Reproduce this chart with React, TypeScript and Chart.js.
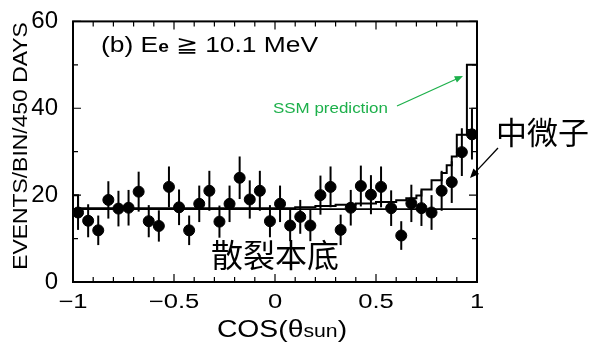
import React, { useEffect, useRef } from "react";
import { Chart, registerables } from "chart.js";

Chart.register(...registerables);

const binCenters = [
  -0.975, -0.925, -0.875, -0.825, -0.775, -0.725, -0.675, -0.625, -0.575, -0.525,
  -0.475, -0.425, -0.375, -0.325, -0.275, -0.225, -0.175, -0.125, -0.075, -0.025,
  0.025, 0.075, 0.125, 0.175, 0.225, 0.275, 0.325, 0.375, 0.425, 0.475,
  0.525, 0.575, 0.625, 0.675, 0.725, 0.775, 0.825, 0.875, 0.925, 0.975,
];
const events = [
  16.0, 14.1, 11.9, 18.9, 16.9, 17.1, 20.8, 14.0, 12.9, 21.9,
  17.2, 11.9, 18.0, 21.0, 13.9, 18.0, 24.0, 19.0, 21.0, 14.0,
  18.0, 13.0, 15.0, 13.0, 20.0, 21.9, 12.0, 17.1, 22.1, 20.1,
  21.9, 17.0, 10.7, 18.1, 17.0, 16.0, 21.0, 23.0, 29.9, 34.0,
];
const errors = [
  4.0, 3.8, 3.4, 4.3, 4.1, 4.1, 4.6, 3.7, 3.6, 4.7,
  4.1, 3.4, 4.2, 4.6, 3.7, 4.2, 4.9, 4.4, 4.6, 3.7,
  4.2, 3.6, 3.9, 3.6, 4.5, 4.7, 3.5, 4.1, 4.7, 4.5,
  4.7, 4.1, 3.3, 4.3, 4.1, 4.0, 4.6, 4.8, 5.5, 5.8,
];
// background level (flat line)
const bgX = [-1, 1];
const bgY = [16.8, 16.8];
// SSM prediction histogram: bin start edges and heights
const ssmEdges = [-1, -0.975, 0.1, 0.2, 0.3, 0.4, 0.5, 0.6, 0.65, 0.7, 0.725, 0.775, 0.825, 0.85, 0.875, 0.9, 0.95, 1];
const ssmHeights = [20, 17, 17.2, 17.5, 17.8, 18.1, 18.4, 18.8, 19.3, 19.9, 21.3, 23.4, 25.1, 26.9, 28.9, 33.9, 50, 50];
// fit histogram near the peak
const fitEdges = [0.9, 0.95, 0.975, 1];
const fitHeights = [33.9, 35.1, 40, 40];

const xTicks = [-1, -0.5, 0, 0.5, 1];
const xTickLabels = ["−1", "−0.5", "0", "0.5", "1"];
const yTickLabels = ["0", "20", "40", "60"];

const FONT = "'Liberation Sans', Arial, Helvetica, sans-serif";
const CJK = "'Noto Sans CJK SC', 'Noto Sans', sans-serif";

function arrow(ctx: CanvasRenderingContext2D, x1: number, y1: number, x2: number, y2: number, color: string, w: number, head: number) {
  ctx.save();
  ctx.strokeStyle = color;
  ctx.fillStyle = color;
  ctx.lineWidth = w;
  const a = Math.atan2(y2 - y1, x2 - x1);
  ctx.beginPath();
  ctx.moveTo(x1, y1);
  ctx.lineTo(x2 - Math.cos(a) * head * 0.8, y2 - Math.sin(a) * head * 0.8);
  ctx.stroke();
  ctx.beginPath();
  ctx.moveTo(x2, y2);
  ctx.lineTo(x2 - head * Math.cos(a - 0.4), y2 - head * Math.sin(a - 0.4));
  ctx.lineTo(x2 - head * Math.cos(a + 0.4), y2 - head * Math.sin(a + 0.4));
  ctx.closePath();
  ctx.fill();
  ctx.restore();
}

// draws pieces of text horizontally stretched by sx; returns end x
function runs(ctx: CanvasRenderingContext2D, parts: [string, string][], x: number, y: number, sx: number, align: "left" | "center" = "left") {
  ctx.save();
  ctx.textAlign = "left";
  ctx.textBaseline = "alphabetic";
  let total = 0;
  for (const [t, f] of parts) {
    ctx.font = f;
    total += ctx.measureText(t).width;
  }
  ctx.translate(align === "center" ? x - (total * sx) / 2 : x, y);
  ctx.scale(sx, 1);
  let cx = 0;
  for (const [t, f] of parts) {
    ctx.font = f;
    ctx.fillText(t, cx, 0);
    cx += ctx.measureText(t).width;
  }
  ctx.restore();
}

const decorPlugin = {
  id: "decor",
  beforeDatasetsDraw(chart: any) {
    const ctx = chart.ctx as CanvasRenderingContext2D;
    const xs = chart.scales.x;
    const ys = chart.scales.y;
    ctx.save();
    ctx.strokeStyle = "#000";
    ctx.lineWidth = 2;
    for (let i = 0; i < binCenters.length; i++) {
      const px = xs.getPixelForValue(binCenters[i]);
      ctx.beginPath();
      ctx.moveTo(px, ys.getPixelForValue(events[i] - errors[i]));
      ctx.lineTo(px, ys.getPixelForValue(events[i] + errors[i]));
      ctx.stroke();
    }
    ctx.restore();
  },
  afterDraw(chart: any) {
    const ctx = chart.ctx as CanvasRenderingContext2D;
    const xs = chart.scales.x;
    const ys = chart.scales.y;
    const a = chart.chartArea;
    ctx.save();
    ctx.strokeStyle = "#000";
    ctx.lineWidth = 2;
    ctx.strokeRect(a.left, a.top, a.right - a.left, a.bottom - a.top);
    ctx.lineWidth = 1.2;
    for (let k = -10; k <= 10; k++) {
      const px = xs.getPixelForValue(k / 10);
      const len = k % 5 === 0 ? 8 : 5;
      ctx.beginPath();
      ctx.moveTo(px, a.bottom);
      ctx.lineTo(px, a.bottom - len);
      ctx.moveTo(px, a.top);
      ctx.lineTo(px, a.top + len);
      ctx.stroke();
    }
    for (let k = 0; k <= 6; k++) {
      const py = ys.getPixelForValue(k * 10);
      const len = k % 2 === 0 ? 8 : 5;
      ctx.beginPath();
      ctx.moveTo(a.left, py);
      ctx.lineTo(a.left + len, py);
      ctx.moveTo(a.right, py);
      ctx.lineTo(a.right - len, py);
      ctx.stroke();
    }
    ctx.fillStyle = "#000";
    // x tick labels (wide lettering as in the scan)
    xTicks.forEach((v, i) => {
      runs(ctx, [[xTickLabels[i], `20px ${FONT}`]], xs.getPixelForValue(v), 307.5, 1.28, "center");
    });
    // title
    runs(
      ctx,
      [
        ["(b) E", `22px ${FONT}`],
        ["e", `bold 16px ${FONT}`],
        [" \u2267 10.1 MeV", `22px ${FONT}`],
      ],
      101,
      52,
      1.2
    );
    // SSM prediction label
    ctx.fillStyle = "#1db04b";
    runs(ctx, [["SSM prediction", `15px ${FONT}`]], 273, 113, 1.13);
    arrow(ctx, 397, 106, 463, 76, "#1db04b", 1.3, 9);
    // neutrino
    ctx.fillStyle = "#000";
    runs(ctx, [["中微子", `31px ${CJK}`]], 496, 144, 1.0);
    arrow(ctx, 498, 148, 470, 178, "#000", 1.3, 10);
    // spallation background
    runs(ctx, [["散裂本底", `32px ${CJK}`]], 211, 267, 1.0);
    // x title
    runs(
      ctx,
      [
        ["COS(\u03b8", `24px ${FONT}`],
        ["sun", `18px ${FONT}`],
        [")", `24px ${FONT}`],
      ],
      282,
      337,
      1.18,
      "center"
    );
    // y title
    ctx.save();
    ctx.translate(27, 146);
    ctx.rotate(-Math.PI / 2);
    runs(ctx, [["EVENTS/BIN/450 DAYS", `21px ${FONT}`]], 0, 0, 1.09, "center");
    ctx.restore();
    ctx.restore();
  },
};

export default function App() {
  const ref = useRef<HTMLCanvasElement | null>(null);
  useEffect(() => {
    if (!ref.current) return;
    const chart = new Chart(ref.current, {
      type: "scatter",
      data: {
        datasets: [
          {
            type: "line",
            data: bgX.map((x, i) => ({ x, y: bgY[i] })),
            borderColor: "#000",
            borderWidth: 1.8,
            pointRadius: 0,
          } as any,
          {
            type: "line",
            data: ssmEdges.map((x, i) => ({ x, y: ssmHeights[i] })),
            borderColor: "#000",
            borderWidth: 2,
            pointRadius: 0,
            stepped: "before",
          } as any,
          {
            type: "line",
            data: fitEdges.map((x, i) => ({ x, y: fitHeights[i] })),
            borderColor: "#000",
            borderWidth: 1.2,
            pointRadius: 0,
            stepped: "before",
          } as any,
          {
            data: binCenters.map((x, i) => ({ x, y: events[i] })),
            backgroundColor: "#000",
            borderColor: "#000",
            pointRadius: 5.5,
            pointHoverRadius: 5.5,
          },
        ],
      },
      options: {
        animation: false,
        responsive: false,
        events: [],
        layout: { padding: { top: 14, right: 115, left: 0, bottom: 0 } },
        plugins: { legend: { display: false }, tooltip: { enabled: false } },
        scales: {
          x: {
            type: "linear",
            min: -1,
            max: 1,
            grid: { display: false },
            border: { display: false },
            ticks: { display: false, stepSize: 0.5 },
            afterFit: (s: any) => {
              s.height = 60;
            },
          },
          y: {
            min: 0,
            max: 60,
            grid: { display: false },
            border: { display: false },
            ticks: {
              stepSize: 20,
              color: "#000",
              padding: 7,
              font: { size: 24, family: FONT },
              callback: (v: any) => yTickLabels[Math.round(Number(v) / 20)] ?? "",
            },
            afterFit: (s: any) => {
              s.width = 73;
            },
          },
        },
      },
      plugins: [decorPlugin],
    });
    return () => chart.destroy();
  }, []);
  return (
    <div style={{ position: "absolute", left: 0, top: 0, width: 592, height: 342, background: "#fff" }}>
      <canvas ref={ref} width={592} height={342} style={{ width: 592, height: 342 }} />
    </div>
  );
}
